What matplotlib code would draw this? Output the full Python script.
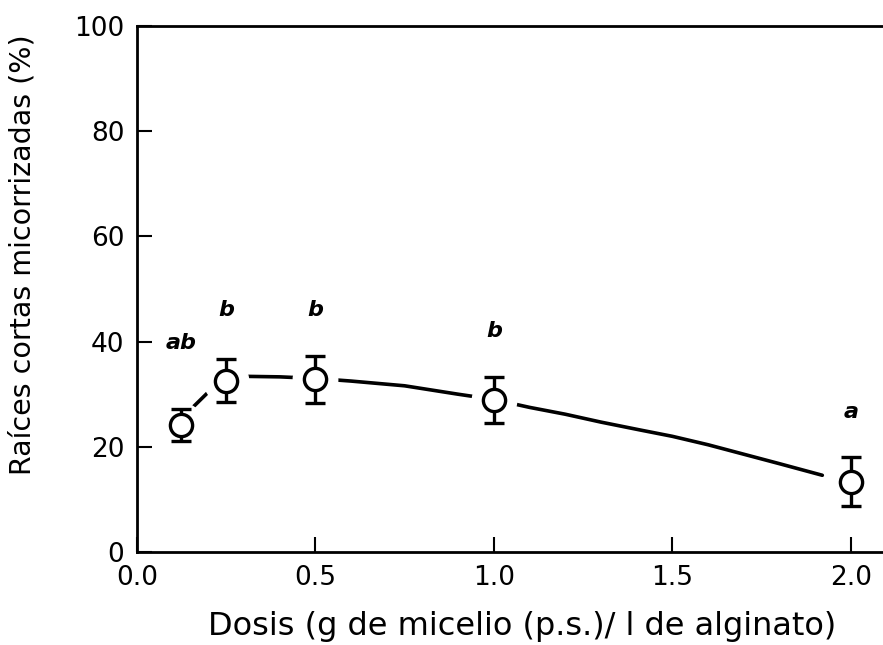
import matplotlib
matplotlib.use("Agg")
import matplotlib.pyplot as plt

# ── Data ────────────────────────────────────────────────────────────
dose = [0.125, 0.25, 0.5, 1.0, 2.0]
pct = [24.1, 32.6, 32.8, 28.9, 13.4]
err = [3.0, 4.0, 4.5, 4.3, 4.6]
letters = ["ab", "b", "b", "b", "a"]
letter_y = [39.7, 46.0, 46.0, 42.0, 26.6]

# fitted curve
curve_x = [0.155, 0.20, 0.25, 0.30, 0.40, 0.50, 0.60, 0.75, 0.90, 1.00,
           1.10, 1.20, 1.30, 1.41, 1.50, 1.60, 1.70, 1.80, 1.92]
curve_y = [27.4, 30.4, 32.6, 33.4, 33.3, 33.0, 32.5, 31.6, 30.0, 29.0,
           27.5, 26.2, 24.7, 23.2, 22.0, 20.4, 18.6, 16.8, 14.6]

xticks = [0.0, 0.5, 1.0, 1.5, 2.0]
yticks = [0, 20, 40, 60, 80, 100]

# ── Plot ────────────────────────────────────────────────────────────
fig = plt.figure(figsize=(8.83, 6.45), dpi=100)
ax = fig.add_axes([0.155, 0.144, 0.845, 0.816])

ax.plot(curve_x, curve_y, color="black", lw=2.6, zorder=1,
        solid_capstyle="round")
# white halo so the curve breaks around each marker
ax.plot(dose, pct, "o", ms=32, color="white", mec="white", zorder=2)
ax.errorbar(dose, pct, yerr=err, fmt="o", ms=16, mfc="white", mec="black",
            mew=2.4, ecolor="black", elinewidth=2.4, capsize=7, capthick=2.6,
            zorder=3)

for x, y, s in zip(dose, letter_y, letters):
    ax.text(x, y, s, ha="center", va="center", fontsize=16,
            fontstyle="italic", fontweight="bold", family="DejaVu Sans")

ax.set_xlim(0, 2.09)
ax.set_ylim(0, 100)
ax.set_xticks(xticks)
ax.set_xticklabels([f"{v:.1f}" for v in xticks])
ax.set_yticks(yticks)
ax.tick_params(direction="in", length=11, width=1.5, labelsize=19, pad=9)
ax.spines["right"].set_visible(False)
for side in ["left", "bottom", "top"]:
    ax.spines[side].set_linewidth(2)

ax.set_xlabel("Dosis (g de micelio (p.s.)/ l de alginato)", fontsize=23)
ax.xaxis.set_label_coords(0.517, -0.112)
ax.set_ylabel("Raíces cortas micorrizadas (%)", fontsize=20.5)
ax.yaxis.set_label_coords(-0.134, 0.565)

fig.savefig("out.png", dpi=100)
